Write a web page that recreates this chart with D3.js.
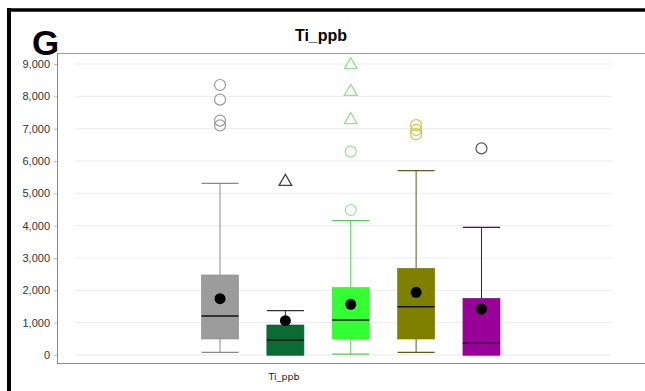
<!DOCTYPE html>
<html><head><meta charset="utf-8">
<script src="https://cdn.jsdelivr.net/npm/d3@7"></script>
<style>body{margin:0;background:#fff}svg{display:block}</style>
</head><body>
<svg id="c" width="645" height="391"></svg>
<script>
const groups = ["A","B","C","D","E"];
const fills = ["#9c9c9c","#0b6b34","#33ff33","#808000","#990099"];
const lineColors = ["#8a8a8a","#333333","#55cc55","#5a5a20","#3a1a3a"];
const outlierColors = ["#9a9a9a","#444444","#99dd99","#c8c850","#555566"];
const q1 = [495, 0, 495, 495, 0];
const median = [1206, 464, 1083, 1495, 360];
const q3 = [2475, 928, 2083, 2680, 1753];
const mean = [1742, 1062, 1567, 1938, 1423];
const whiskerLow = [83, 0, 30, 83, 0];
const whiskerHigh = [5310, 1370, 4155, 5700, 3950];
const outlierCircles = [[8350, 7900, 7250, 7100], [], [4485, 6290], [7110, 6960, 6830], [6390]];
const outlierTriangles = [[], [5360], [8970, 8145, 7270], [], []];
const yTicks = [0,1000,2000,3000,4000,5000,6000,7000,8000,9000];
const title = "Ti_ppb";
const xLabel = "Ti_ppb";
const panelLetter = "G";

const svg = d3.select("#c");
const y = d3.scaleLinear().domain([0, 9000]).range([355, 64]);
const x = d3.scaleBand().domain(groups).range([201.5, 500]).paddingInner(0.433).paddingOuter(0);

// gridlines
svg.append("g").selectAll("line").data(yTicks).join("line")
  .attr("x1", 75).attr("x2", 612)
  .attr("y1", d => y(d)).attr("y2", d => y(d))
  .attr("stroke", "#ebebeb").attr("stroke-width", 1);

// header line
svg.append("line").attr("x1", 57).attr("x2", 645).attr("y1", 53.5).attr("y2", 53.5)
  .attr("stroke", "#9a9a9a").attr("stroke-width", 1);
// axes lines
svg.append("line").attr("x1", 57.5).attr("x2", 57.5).attr("y1", 53).attr("y2", 364)
  .attr("stroke", "#8a8a8a").attr("stroke-width", 1);
svg.append("line").attr("x1", 57).attr("x2", 645).attr("y1", 363.5).attr("y2", 363.5)
  .attr("stroke", "#8a8a8a").attr("stroke-width", 1.2);

// y axis via d3
const yAxis = d3.axisLeft(y).tickValues(yTicks).tickFormat(d3.format(",")).tickSize(3).tickPadding(4);
const ya = svg.append("g").attr("transform", "translate(57,0)").call(yAxis);
ya.select(".domain").remove();
ya.selectAll(".tick line").attr("stroke", "#bbbbbb");
ya.selectAll("text").attr("font-family", "Liberation Sans, Arial, sans-serif")
  .attr("font-size", 11).attr("fill", "#333");

// boxes
const bw = x.bandwidth();
groups.forEach((g, i) => {
  const cx = x(g) + bw / 2;
  const gg = svg.append("g");
  gg.append("line").attr("x1", cx).attr("x2", cx).attr("y1", y(q3[i])).attr("y2", y(whiskerHigh[i]))
    .attr("stroke", lineColors[i]).attr("stroke-width", 1);
  gg.append("line").attr("x1", cx).attr("x2", cx).attr("y1", y(q1[i])).attr("y2", y(whiskerLow[i]))
    .attr("stroke", lineColors[i]).attr("stroke-width", 1);
  gg.append("line").attr("x1", x(g)).attr("x2", x(g) + bw).attr("y1", y(whiskerHigh[i])).attr("y2", y(whiskerHigh[i]))
    .attr("stroke", lineColors[i]).attr("stroke-width", 1.2);
  gg.append("line").attr("x1", x(g)).attr("x2", x(g) + bw).attr("y1", y(whiskerLow[i])).attr("y2", y(whiskerLow[i]))
    .attr("stroke", lineColors[i]).attr("stroke-width", 1.2);
  gg.append("rect").attr("x", x(g)).attr("width", bw)
    .attr("y", y(q3[i])).attr("height", y(q1[i]) - y(q3[i]))
    .attr("fill", fills[i]).attr("stroke", d3.color(fills[i]).darker(0.3)).attr("stroke-width", 0.6);
  gg.append("line").attr("x1", x(g)).attr("x2", x(g) + bw).attr("y1", y(median[i])).attr("y2", y(median[i]))
    .attr("stroke", "#111").attr("stroke-width", 1.5);
  gg.append("circle").attr("cx", cx).attr("cy", y(mean[i])).attr("r", 5.5).attr("fill", "#000");
  outlierCircles[i].forEach(v => {
    gg.append("circle").attr("cx", cx).attr("cy", y(v)).attr("r", 5.5)
      .attr("fill", "none").attr("stroke", outlierColors[i]).attr("stroke-width", 1.2);
  });
  const tri = d3.symbol().type(d3.symbolTriangle).size(70);
  outlierTriangles[i].forEach(v => {
    gg.append("path").attr("d", tri()).attr("transform", `translate(${cx},${y(v)})`)
      .attr("fill", "none").attr("stroke", outlierColors[i]).attr("stroke-width", 1.3);
  });
});

// title
svg.append("text").attr("x", 321).attr("y", 41).attr("text-anchor", "middle")
  .attr("font-family", "Liberation Sans, Arial, sans-serif").attr("font-weight", "bold")
  .attr("font-size", 16).attr("fill", "#000").text(title);
// x label
svg.append("text").attr("x", 284).attr("y", 380).attr("text-anchor", "middle")
  .attr("font-family", "DejaVu Sans, sans-serif").attr("font-size", 9.5).attr("fill", "#222").text(xLabel);
// panel letter
svg.append("text").attr("x", 32).attr("y", 55).attr("font-family", "Liberation Sans, Arial, sans-serif")
  .attr("font-weight", "bold").attr("font-size", 35).attr("fill", "#000").text(panelLetter);

// frame
svg.append("line").attr("x1", 7).attr("x2", 645).attr("y1", 10).attr("y2", 10).attr("stroke", "#000").attr("stroke-width", 3.5);
svg.append("line").attr("x1", 9).attr("x2", 9).attr("y1", 8).attr("y2", 391).attr("stroke", "#000").attr("stroke-width", 4);
</script>
</body></html>
